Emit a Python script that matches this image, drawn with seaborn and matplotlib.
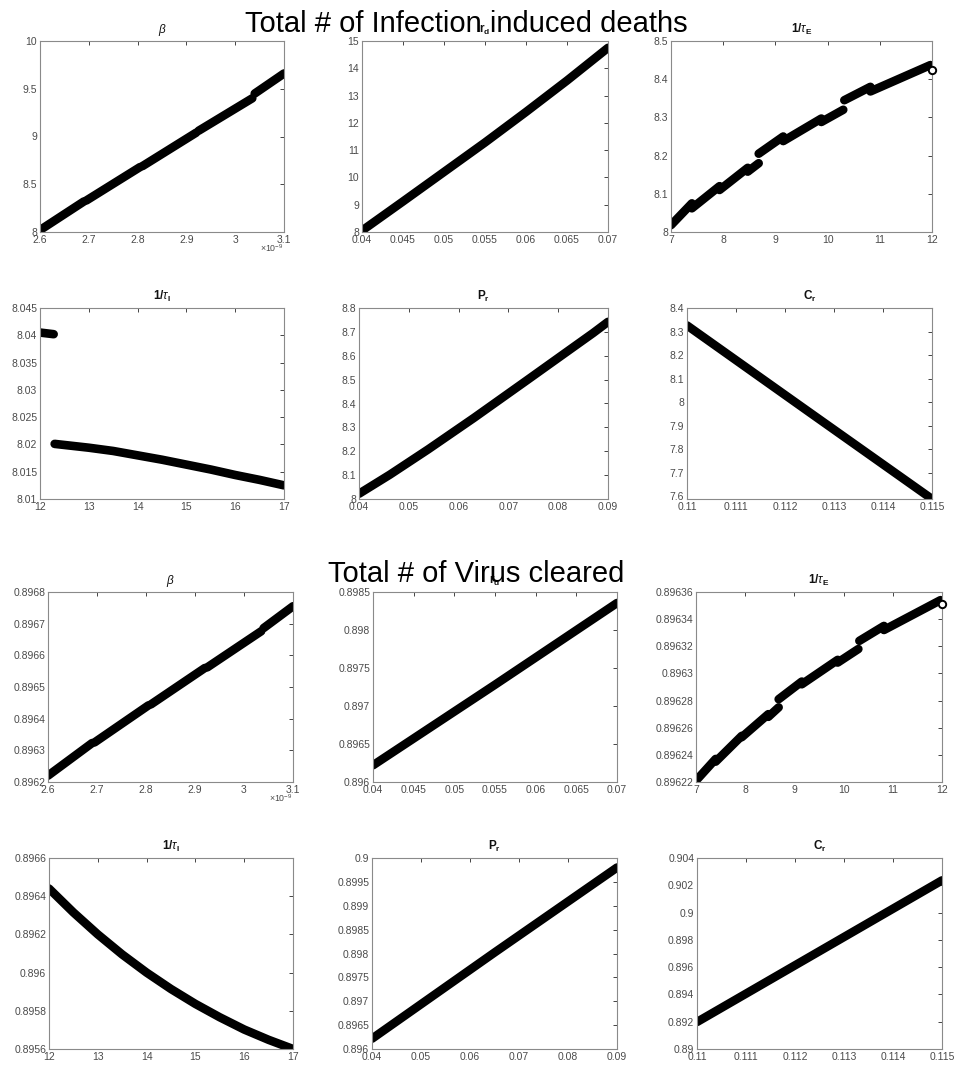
import numpy as np
import matplotlib
matplotlib.use('Agg')
import matplotlib.pyplot as plt
import seaborn as sns
from matplotlib.ticker import MultipleLocator, FuncFormatter

sns.set_style('white')
plt.rcParams['font.family'] = ['Liberation Sans', 'DejaVu Sans']
plt.rcParams['mathtext.fontset'] = 'custom'
plt.rcParams['mathtext.rm'] = 'Liberation Sans'
plt.rcParams['mathtext.it'] = 'Liberation Sans:italic'
plt.rcParams['mathtext.bf'] = 'Liberation Sans:bold'

# ---- data ----
# shared x values
beta_x = [[2.600e-9, 2.690e-9], [2.695e-9, 2.805e-9], [2.810e-9, 2.920e-9],
          [2.925e-9, 3.035e-9], [3.040e-9, 3.100e-9]]
tauE_x = [[7.0, 7.4], [7.4, 7.93], [7.93, 8.47], [8.47, 8.68], [8.68, 9.15],
          [9.15, 9.88], [9.88, 10.3], [10.32, 10.82], [10.82, 11.97]]
tauE_end_x = [12.0]

# Total # of infection induced deaths
d_beta_y = [[8.02, 8.32], [8.33, 8.68], [8.69, 9.04], [9.06, 9.40], [9.45, 9.66]]
d_rd_x = [0.04, 0.045, 0.05, 0.055, 0.06, 0.065, 0.07]
d_rd_y = [8.05, 9.12, 10.2, 11.28, 12.4, 13.55, 14.75]
d_tauE_y = [[8.018, 8.075], [8.062, 8.12], [8.11, 8.168], [8.158, 8.18],
            [8.205, 8.25], [8.238, 8.297], [8.288, 8.32], [8.345, 8.38],
            [8.368, 8.437]]
d_tauE_end_y = [8.425]
d_tauI_x = [[12.0, 12.28], [12.3, 13, 13.5, 14, 14.5, 15, 15.5, 16, 16.5, 17]]
d_tauI_y = [[8.0405, 8.0402],
            [8.0201, 8.0194, 8.0188, 8.0180, 8.0172, 8.0163, 8.0154, 8.0144,
             8.0135, 8.0125]]
d_pr_x = [0.04, 0.0462, 0.0539, 0.0631, 0.0739, 0.0833, 0.087, 0.09]
d_pr_y = [8.022, 8.102, 8.208, 8.340, 8.50, 8.640, 8.695, 8.742]
d_cr_x = [0.11, 0.1125, 0.115]
d_cr_y = [8.326, 7.957, 7.589]

# Total # of virus cleared
v_beta_y = [[0.89622, 0.896323], [0.896325, 0.896442], [0.896445, 0.89656],
            [0.896562, 0.896676], [0.896686, 0.896755]]
v_rd_x = [0.04, 0.055, 0.07]
v_rd_y = [0.89622, 0.89728, 0.898355]
v_tauE_y = [[0.896221, 0.896237], [0.896235, 0.896254], [0.896253, 0.89627],
            [0.896268, 0.896275], [0.896281, 0.896294], [0.896292, 0.89631],
            [0.896308, 0.896318], [0.896324, 0.896335], [0.896332, 0.896354]]
v_tauE_end_y = [0.896351]
v_tauI_x = [12, 12.5, 13, 13.5, 14, 14.5, 15, 15.5, 16, 16.5, 17]
v_tauI_y = [0.89644, 0.896315, 0.8962, 0.896095, 0.896, 0.895914, 0.895836,
            0.895766, 0.895702, 0.895648, 0.8956]
v_pr_x = [0.04, 0.065, 0.09]
v_pr_y = [0.896216, 0.89802, 0.8998]
v_cr_x = [0.11, 0.115]
v_cr_y = [0.89198, 0.90236]

titles = [r'$\beta$', r'r$_{\mathbf{d}}$', r'1/$\tau_{\mathbf{E}}$',
          r'1/$\tau_{\mathbf{I}}$', r'P$_{\mathbf{r}}$', r'C$_{\mathbf{r}}$']

W, H = 957, 1068
fig = plt.figure(figsize=(W / 100, H / 100), dpi=100)

# axes boxes in pixels: left, top, right, bottom
boxes = [
    (40, 41, 284, 232), (362, 41, 608, 232), (671, 41, 932, 232),
    (40, 308, 284, 499), (359, 308, 608, 499), (687, 308, 932, 499),
    (48, 592, 293, 782), (373, 592, 617, 782), (696, 592, 942, 782),
    (49, 858, 293, 1049), (372, 858, 617, 1049), (697, 858, 942, 1049),
]
axes = []
for l, t, r, b in boxes:
    axes.append(fig.add_axes([l / W, 1 - b / H, (r - l) / W, (b - t) / H]))


def draw(ax, xs, ys):
    if not isinstance(xs[0], list):
        xs, ys = [xs], [ys]
    for x, y in zip(xs, ys):
        sns.lineplot(x=x, y=y, ax=ax, color='black', linewidth=6.2,
                     sort=False, solid_capstyle='round', legend=False)


def gfmt(scale=1.0):
    return FuncFormatter(lambda v, p: f'{round(v / scale, 8):g}')


draw(axes[0], beta_x, d_beta_y)
draw(axes[1], d_rd_x, d_rd_y)
draw(axes[2], tauE_x, d_tauE_y)
draw(axes[3], d_tauI_x, d_tauI_y)
draw(axes[4], d_pr_x, d_pr_y)
draw(axes[5], d_cr_x, d_cr_y)
draw(axes[6], beta_x, v_beta_y)
draw(axes[7], v_rd_x, v_rd_y)
draw(axes[8], tauE_x, v_tauE_y)
draw(axes[9], v_tauI_x, v_tauI_y)
draw(axes[10], v_pr_x, v_pr_y)
draw(axes[11], v_cr_x, v_cr_y)

for ax, ey in [(axes[2], d_tauE_end_y), (axes[8], v_tauE_end_y)]:
    sns.scatterplot(x=tauE_end_x, y=ey, ax=ax, marker='o', s=28,
                    facecolor='white', edgecolor='black', linewidth=1.4,
                    legend=False, zorder=5, clip_on=False)

xlims = [(2.6e-9, 3.1e-9), (0.04, 0.07), (7, 12), (12, 17), (0.04, 0.09), (0.11, 0.115)]
xsteps = [0.1e-9, 0.005, 1, 1, 0.01, 0.001]
ylims = [(8, 10), (8, 15), (8, 8.5), (8.01, 8.045), (8, 8.8), (7.589, 8.4),
         (0.8962, 0.8968), (0.896, 0.8985), (0.89622, 0.89636),
         (0.8956, 0.8966), (0.896, 0.9), (0.89, 0.904)]
ysteps = [0.5, 1, 0.1, 0.005, 0.1, 0.1,
          0.0001, 0.0005, 0.00002, 0.0002, 0.0005, 0.002]

for i, ax in enumerate(axes):
    k = i % 6
    ax.set_xlim(*xlims[k])
    ax.set_ylim(*ylims[i])
    lo, hi = xlims[k]
    ax.set_xticks(np.linspace(lo, hi, int(round((hi - lo) / xsteps[k])) + 1))
    ax.yaxis.set_major_locator(MultipleLocator(ysteps[i]))
    ax.xaxis.set_major_formatter(gfmt(1e-9 if k == 0 else 1.0))
    ax.yaxis.set_major_formatter(gfmt())
    ax.tick_params(direction='in', top=True, right=True, length=3, width=0.6,
                   color='#262626', labelcolor='#4a4a4a', labelsize=7.5, pad=2)
    for s in ax.spines.values():
        s.set_color('#8a8a8a')
        s.set_linewidth(0.8)
    ax.set_xlabel('')
    ax.set_ylabel('')
    bold = 'normal' if k == 0 else 'bold'
    ax.set_title(titles[k], fontsize=8.5, fontweight=bold, pad=6, color='#111111')
    if k == 0:
        ax.text(1.0, -0.085, r'$\times$10$^{-9}$', transform=ax.transAxes,
                ha='right', va='center', fontsize=6.3, color='#4a4a4a')

fig.text(466 / W, 1 - 32 / H, 'Total # of Infection induced deaths',
         ha='center', va='baseline', fontsize=21, color='black')
fig.text(476 / W, 1 - 582 / H, 'Total # of Virus cleared',
         ha='center', va='baseline', fontsize=21, color='black')

fig.savefig('out.png', dpi=100, facecolor='white')
